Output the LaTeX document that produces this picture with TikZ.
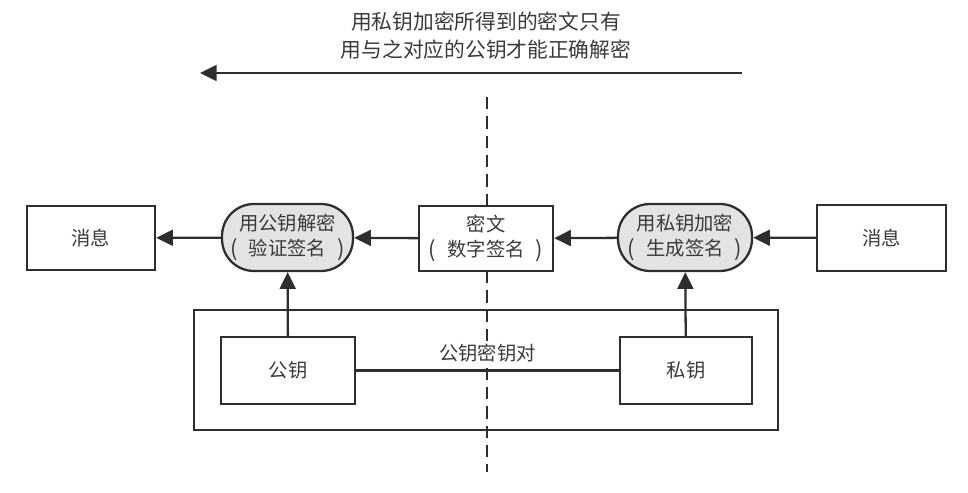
\documentclass[tikz,border=0pt]{standalone}
\usepackage{fontspec}
\setmainfont{Noto Sans CJK SC}
\newcommand{\lp}{\makebox[1em][l]{\kern0.5pt\raisebox{-0.3pt}{\fontsize{12.5}{14}\selectfont (}}}
\newcommand{\rp}{\makebox[1em][r]{\raisebox{-0.3pt}{\fontsize{12.5}{14}\selectfont )}\kern0.5pt}}
\usetikzlibrary{arrows.meta}
\definecolor{ink}{HTML}{2E2E2E}
\definecolor{txt}{HTML}{3A3A3A}
\definecolor{pillgray}{HTML}{E3E3E3}
\tikzset{
  box/.style={draw=ink, line width=1.3pt, fill=white, text=txt, font=\fontsize{11}{14}\selectfont, align=center, inner sep=0pt},
  pill/.style={box, fill=pillgray, rounded corners=0.64cm},
  conn/.style={draw=ink, line width=1.3pt},
  arr/.style={conn, -{Triangle[length=9.5pt,width=9pt]}},
}
\begin{document}
\begin{tikzpicture}[x=0.02cm, y=-0.02cm]
\useasboundingbox (0,0) rectangle (968,493);
% dashed divider
\coordinate (dtop) at (487,97);
\coordinate (dbot) at (487,472);
\draw[conn, line width=1.1pt, dash pattern=on 7pt off 4pt] (dtop) -- (dbot);
% top caption and arrow
\node[text=txt, font=\fontsize{11.8}{16}\selectfont, align=center] (cap) at (486,36) {用私钥加密所得到的密文只有\\用与之对应的公钥才能正确解密};
\coordinate (astart) at (742,73);
\coordinate (aend) at (200,73);
\draw[arr] (astart) -- (aend);
% outer key-pair box
\node[box, fill=none, minimum width=11.68cm, minimum height=2.4cm] (outer) at (486,370) {};
% main row
\node[box, minimum width=2.56cm, minimum height=1.28cm] (msgL) at (91,238) {消息};
\node[pill, minimum width=2.62cm, minimum height=1.34cm] (pillL) at (287.5,237.5) {用公钥解密\\\lp 验证签名\rp};
\node[box, minimum width=2.68cm, minimum height=1.3cm] (cipher) at (486,238.5) {密文\\\lp 数字签名\rp};
\node[pill, minimum width=2.68cm, minimum height=1.34cm] (pillR) at (685,237.5) {用私钥加密\\\lp 生成签名\rp};
\node[box, minimum width=2.58cm, minimum height=1.32cm] (msgR) at (881.5,238) {消息};
% keys
\node[box, minimum width=2.68cm, minimum height=1.34cm] (pub) at (288,370.5) {公钥};
\node[box, minimum width=2.64cm, minimum height=1.34cm] (priv) at (686,370.5) {私钥};
\draw[conn] (pub) -- node[above=3pt, fill=white, text=txt, font=\fontsize{11}{14}\selectfont, inner sep=1pt] (pairlbl) {公钥密钥对} (priv);
% arrows
\draw[arr] (msgR) -- (pillR);
\draw[arr] (pillR) -- (cipher);
\draw[arr] (cipher) -- (pillL);
\draw[arr] (pillL) -- (msgL);
\draw[arr] (pub) -- (pillL);
\draw[arr] (priv) -- (pillR);
\end{tikzpicture}
\end{document}
